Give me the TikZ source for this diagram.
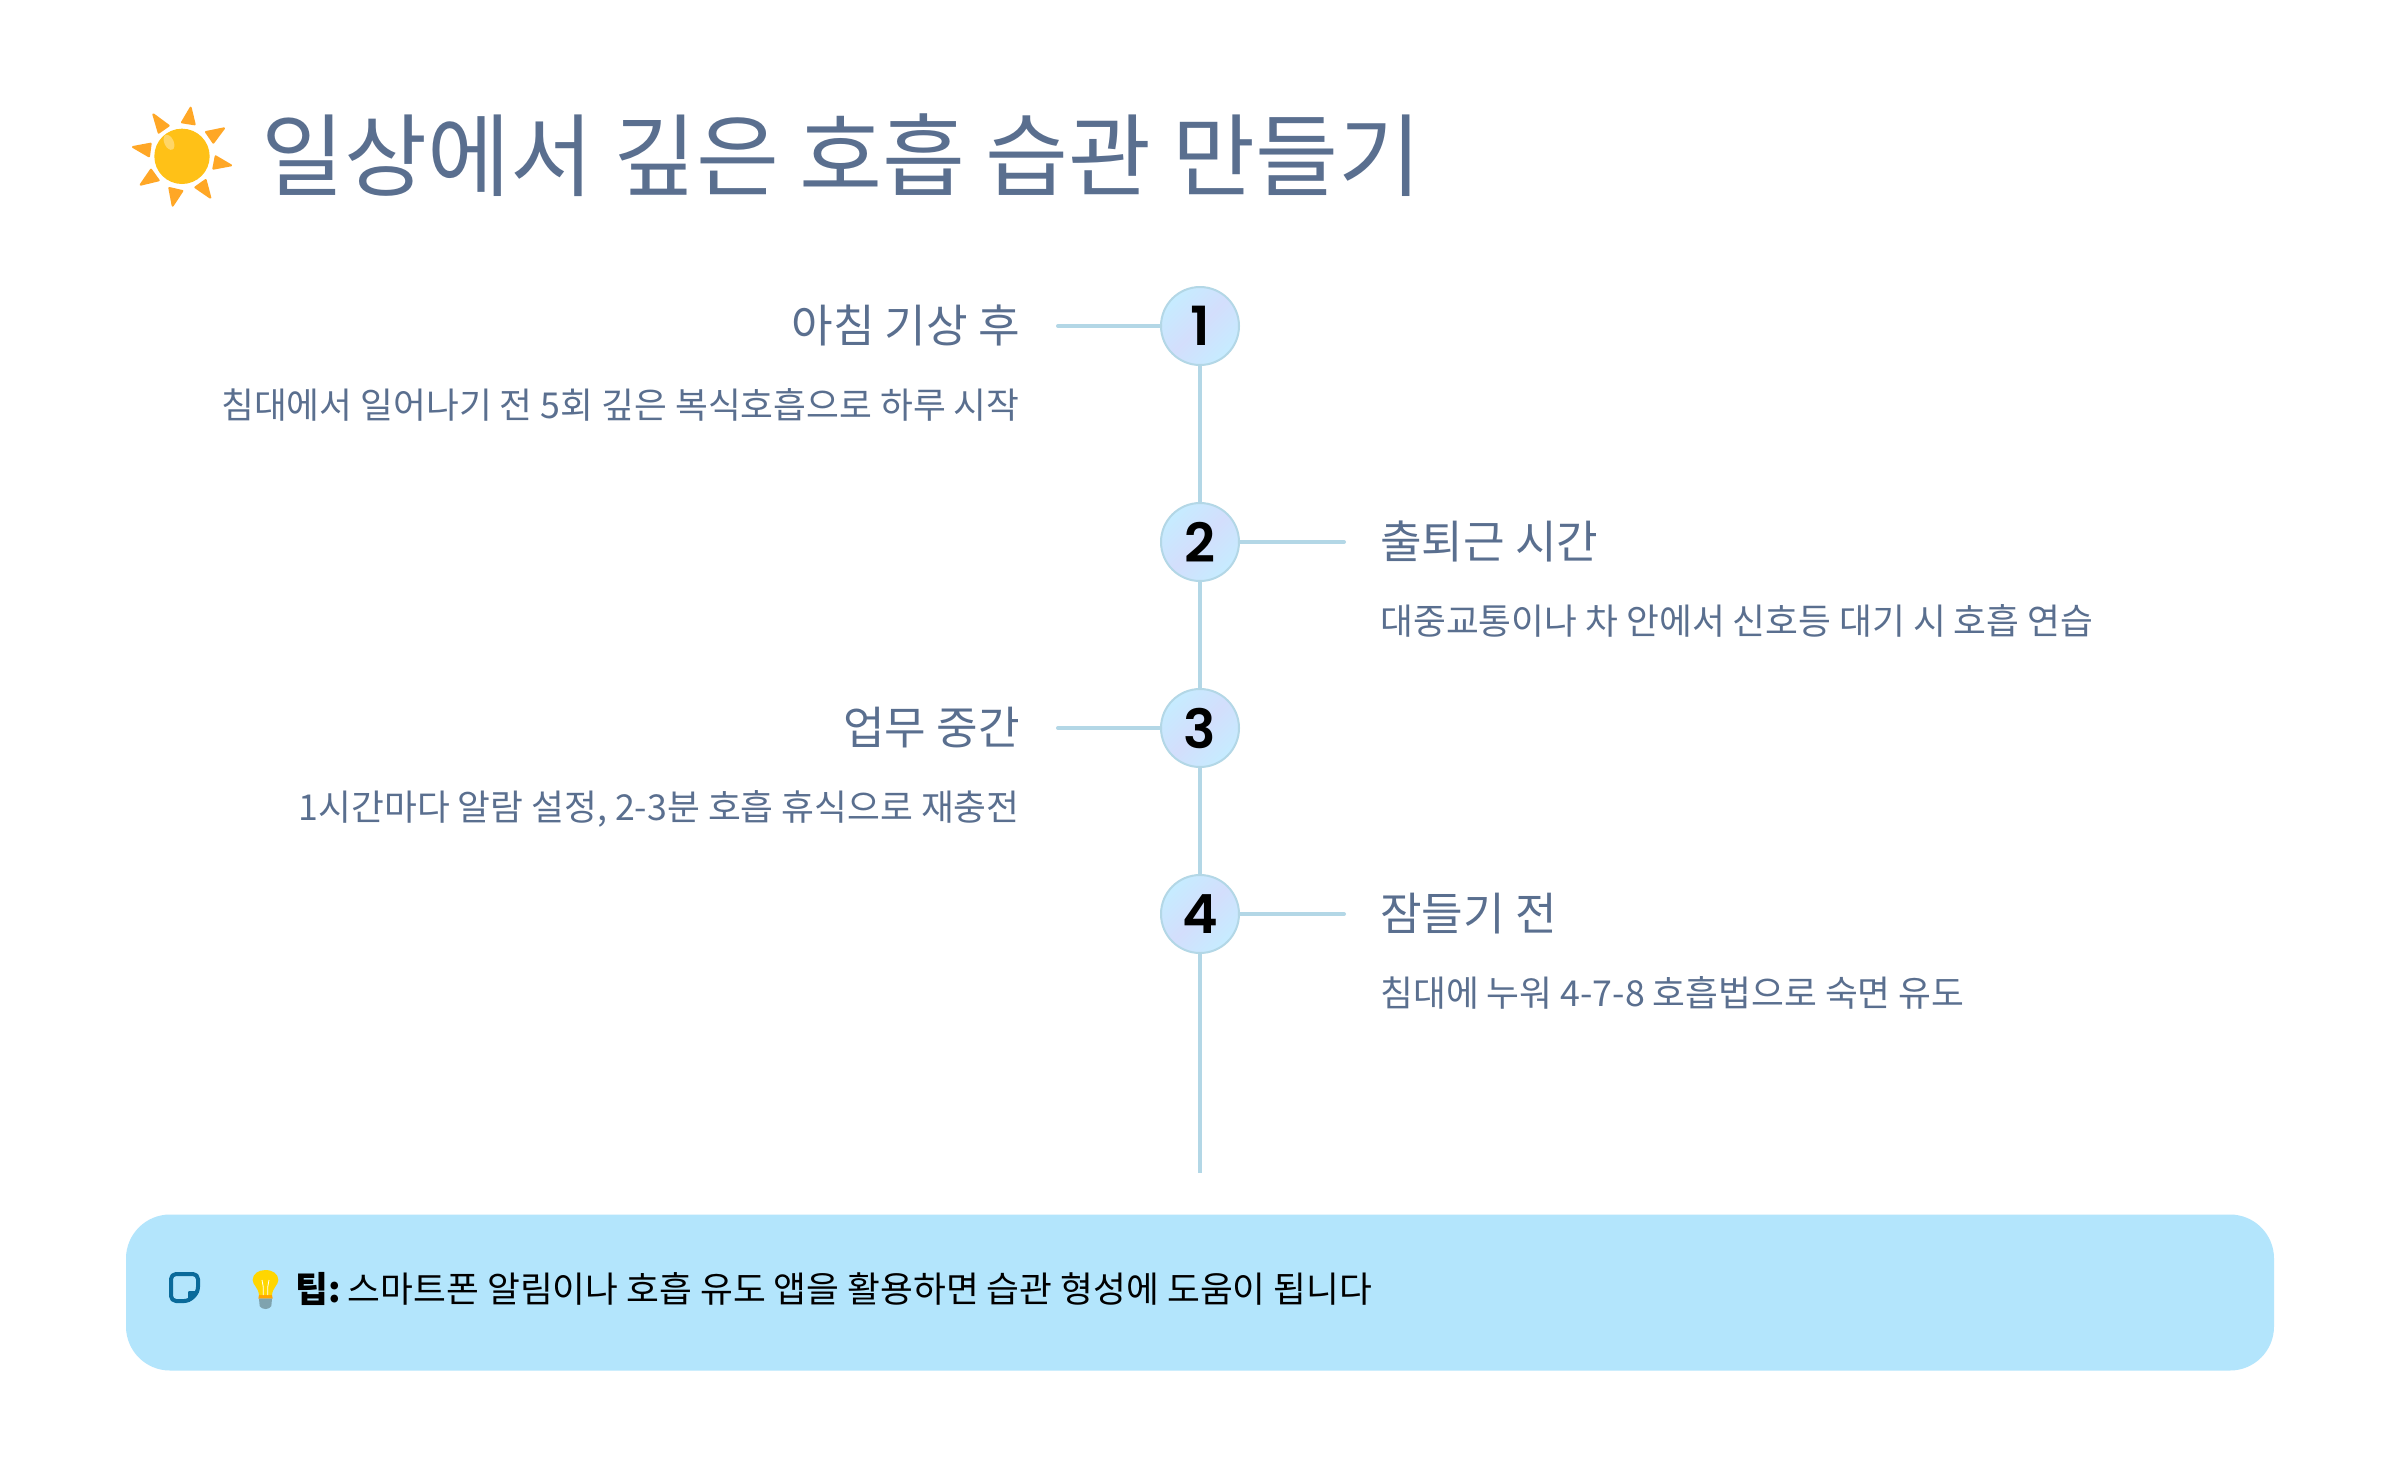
\documentclass[tikz,border=0pt]{standalone}
\usepackage{fontspec}
\setmainfont{Noto Sans CJK KR}
\newfontfamily\numfont{Poppins SemiBold}
\definecolor{slate}{HTML}{5A6F8F}
\definecolor{linec}{HTML}{B3D7E6}
\definecolor{tipbg}{HTML}{B3E5FC}
\definecolor{iconc}{HTML}{0A6A9A}
\definecolor{nodeA}{HTML}{C6ECFF}
\definecolor{nodeB}{HTML}{D3DEFC}
\definecolor{rayc}{HTML}{FFA726}
\definecolor{sunc}{HTML}{FFC117}
\definecolor{bulbbase}{HTML}{7FA3AE}
\definecolor{bulbc}{HTML}{FFD600}
\tikzset{
  timenode/.style={circle,draw=linec,line width=1pt,minimum size=39pt,inner sep=0pt,
     shading=axis,top color=nodeA,bottom color=nodeA,middle color=nodeB,shading angle=45,
     font=\numfont\fontsize{27}{27}\selectfont,text=black},
  conn/.style={draw=linec,line width=2pt,line cap=round},
  spine/.style={draw=linec,line width=2pt},
  headl/.style={text=slate,font=\fontsize{22.6}{22.6}\selectfont,anchor=base east,inner sep=0pt},
  headr/.style={text=slate,font=\fontsize{22.6}{22.6}\selectfont,anchor=base west,inner sep=0pt},
  subl/.style={text=slate,font=\fontsize{17.85}{17.85}\selectfont,anchor=base east,inner sep=0pt},
  subr/.style={text=slate,font=\fontsize{17.85}{17.85}\selectfont,anchor=base west,inner sep=0pt},
  ray/.style={fill=rayc,draw=rayc,line width=1pt,line join=round},
}
\begin{document}
\begin{tikzpicture}[x=0.5pt,y=-0.5pt]
\useasboundingbox (0,0) rectangle (2400,1468);
\fill[white] (0,0) rectangle (2400,1468);
% sun
\begin{scope}[shift={(100,80)},x=0.16667pt,y=-0.16667pt]
\fill[ray] (272,83)--(284,133)--(246,127)--cycle;
\fill[ray] (372,145)--(340,188)--(318,156)--cycle;
\fill[ray] (393,256)--(340,266)--(347,229)--cycle;
\fill[ray] (331,353)--(286,322)--(317,300)--cycle;
\fill[ray] (218,377)--(208,324)--(247,333)--cycle;
\fill[ray] (122,314)--(153,269)--(176,301)--cycle;
\fill[ray] (99,201)--(152,191)--(147,229)--cycle;
\fill[ray] (160,103)--(206,137)--(176,158)--cycle;
\fill[sunc] (246,229) circle[radius=83];
\fill[white,opacity=0.35,rotate around={25:(207,187)}] (207,187) ellipse[x radius=14,y radius=24];
\end{scope}
\node[text=slate,font=\fontsize{45.1}{45.1}\selectfont,anchor=base west,inner sep=0pt] (title) at (261,189.5) {일상에서 깊은 호흡 습관 만들기};
% timeline
\coordinate (tlend) at (1200,1173);
\node[timenode] (n1) at (1200,326) {1};
\node[timenode] (n2) at (1200,542) {2};
\node[timenode] (n3) at (1200,728) {3};
\node[timenode] (n4) at (1200,914) {4};
\draw[spine] (n1) -- (n2);
\draw[spine] (n2) -- (n3);
\draw[spine] (n3) -- (n4);
\draw[spine] (n4) -- (tlend);
\coordinate (c1) at (1058,326);
\coordinate (c2) at (1344,542);
\coordinate (c3) at (1058,728);
\coordinate (c4) at (1344,914);
\draw[conn] (c1) -- (n1);
\draw[conn] (n2) -- (c2);
\draw[conn] (c3) -- (n3);
\draw[conn] (n4) -- (c4);
\node[headl] (h1) at (1020,342) {아침 기상 후};
\node[subl] (s1) at (1020,418) {침대에서 일어나기 전 5회 깊은 복식호흡으로 하루 시작};
\node[headr] (h2) at (1380,558) {출퇴근 시간};
\node[subr] (s2) at (1380,634) {대중교통이나 차 안에서 신호등 대기 시 호흡 연습};
\node[headl] (h3) at (1020,744) {업무 중간};
\node[subl] (s3) at (1020,820) {1시간마다 알람 설정, 2-3분 호흡 휴식으로 재충전};
\node[headr] (h4) at (1380,930) {잠들기 전};
\node[subr] (s4) at (1380,1006) {침대에 누워 4-7-8 호흡법으로 숙면 유도};
% tip
\node[fill=tipbg,rounded corners=22pt,minimum width=1074pt,minimum height=78pt,inner sep=0pt] (tip) at (1200,1292.5) {};
% note icon
\draw[iconc,line width=2pt,line join=round,rounded corners=2.5pt] (171,1274) -- (198,1274) -- (198,1292) -- (189,1301) -- (171,1301) -- cycle;
\fill[iconc,draw=iconc,line width=1pt,line join=round] (189,1301) -- (189,1292) -- (198,1292) -- cycle;
% bulb
\begin{scope}[shift={(110,1200)},x=0.16667pt,y=-0.16667pt]
\fill[bulbc] (447,285) .. controls (445,262) and (428,255) .. (428,240) .. controls (428,222) and (445,210) .. (466,210) .. controls (488,210) and (505,222) .. (505,240) .. controls (505,255) and (488,262) .. (486,285) -- cycle;
\fill[orange!70!yellow] (447,285) -- (486,285) -- (488,296) -- (445,296) -- cycle;
\fill[bulbbase] (447,296) -- (486,296) -- (484,318) .. controls (478,330) and (455,330) .. (449,318) -- cycle;
\draw[white,line width=0.4pt] (456,240) -- (460,262) -- (460,285);
\draw[white,line width=0.4pt] (477,240) -- (473,262) -- (473,285);
\end{scope}
\node[text=black,font=\fontsize{17.85}{17.85}\selectfont,anchor=base west,inner sep=0pt] (tiptext) at (295,1302) {\textbf{팁:}\hspace{-1.8pt} 스마트폰 알림이나 호흡 유도 앱을 활용하면 습관 형성에 도움이 됩니다};
\end{tikzpicture}
\end{document}
